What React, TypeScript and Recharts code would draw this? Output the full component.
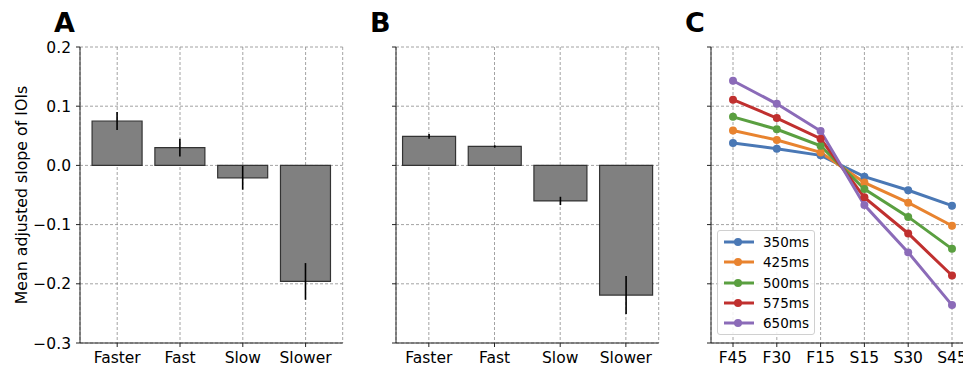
import React from 'react';
import {
  BarChart,
  Bar,
  LineChart,
  Line,
  XAxis,
  YAxis,
  CartesianGrid,
  ErrorBar,
  Legend,
} from 'recharts';

// panels A and B: tempo change categories
const categories = ['Faster', 'Fast', 'Slow', 'Slower'];
const meanA = [0.075, 0.03, -0.021, -0.196];
const errA = [0.015, 0.015, 0.02, 0.031];
const meanB = [0.049, 0.032, -0.06, -0.219];
const errB = [0.004, 0.002, 0.007, 0.032];

// panel C: step sizes per base tempo
const steps = ['F45', 'F30', 'F15', 'S15', 'S30', 'S45'];
const slope350 = [0.038, 0.028, 0.017, -0.019, -0.042, -0.068];
const slope425 = [0.059, 0.043, 0.022, -0.029, -0.063, -0.102];
const slope500 = [0.082, 0.061, 0.033, -0.04, -0.087, -0.141];
const slope575 = [0.111, 0.08, 0.045, -0.054, -0.115, -0.186];
const slope650 = [0.143, 0.104, 0.058, -0.067, -0.147, -0.236];
const tempoNames = ['350ms', '425ms', '500ms', '575ms', '650ms'];

const yTicks = [-0.3, -0.2, -0.1, 0, 0.1, 0.2];

const dataA = categories.map((name, i) => ({ name, mean: meanA[i], err: errA[i] }));
const dataB = categories.map((name, i) => ({ name, mean: meanB[i], err: errB[i] }));
const dataC = steps.map((name, i) => ({
  name,
  t350: slope350[i],
  t425: slope425[i],
  t500: slope500[i],
  t575: slope575[i],
  t650: slope650[i],
}));

const lineKeys = ['t350', 't425', 't500', 't575', 't650'];
const lineColors = ['#4a78b5', '#e8832f', '#5a9f40', '#c0302f', '#8b6bb8'];

const FONT = 'DejaVu Sans';
const tickStyle = { fontSize: 15.5, fill: '#000', fontFamily: FONT };
const spine = { stroke: '#222', strokeWidth: 1 };

const fmtY = (v: number) => (v < 0 ? '\u2212' : '') + Math.abs(v).toFixed(1);
const blank = () => '';

// top and right spines as extra axes
const frameAxes = (showRight: boolean) => [
  <XAxis key="top" xAxisId="top" orientation="top" height={0} tick={false} tickLine={false} axisLine={spine} />,
  showRight ? (
    <YAxis key="right" yAxisId="right" orientation="right" width={0} tick={false} tickLine={false} axisLine={spine} />
  ) : null,
];

const BarPanel = ({ data, yWidth, width, right, showLabels, padL, padR }: any) => (
  <BarChart width={width} height={366} data={data} margin={{ top: 47, right, bottom: 0, left: 0 }}>
    <CartesianGrid stroke="#8c8c8c" strokeWidth={0.8} strokeDasharray="3 2" />
    <XAxis
      dataKey="name"
      height={23}
      tickSize={4}
      tickMargin={5}
      tick={tickStyle}
      axisLine={spine}
      tickLine={spine}
      padding={{ left: padL, right: padR }}
      interval={0}
    />
    <YAxis
      type="number"
      domain={[-0.3, 0.2]}
      ticks={yTicks}
      width={yWidth}
      tickSize={4}
      tickMargin={5}
      tick={tickStyle}
      axisLine={spine}
      tickLine={spine}
      tickFormatter={showLabels ? fmtY : blank}
      interval={0}
    />
    {frameAxes(true)}
    <Bar dataKey="mean" fill="#808080" stroke="#333" strokeWidth={1.2} barCategoryGap="10%" isAnimationActive={false}>
      <ErrorBar dataKey="err" width={0} stroke="#000" strokeWidth={1.6} direction="y" />
    </Bar>
  </BarChart>
);

const LegendBox = ({ payload }: any) => (
  <div
    style={{
      border: '1px solid #d0d0d0',
      borderRadius: 3,
      background: 'rgba(255,255,255,0.85)',
      padding: '1px 0',
      width: 96,
      fontFamily: FONT,
      fontSize: 13.5,
      color: '#000',
      textAlign: 'left',
    }}
  >
    {(payload || []).map((p: any) => (
      <div key={p.value} style={{ display: 'flex', alignItems: 'center', height: 20.3 }}>
        <svg width={36} height={12} style={{ marginLeft: 5 }}>
          <line x1={1} y1={6} x2={31} y2={6} stroke={p.color} strokeWidth={3} />
          <circle cx={15} cy={6} r={4} fill={p.color} />
        </svg>
        <span style={{ marginLeft: 4 }}>{p.value}</span>
      </div>
    ))}
  </div>
);

const App = () => (
  <div
    style={{
      position: 'absolute',
      left: 0,
      top: 0,
      width: 963,
      height: 366,
      overflow: 'hidden',
      background: '#fff',
      fontFamily: FONT,
    }}
  >
    <div style={{ position: 'absolute', left: 0, top: 0 }}>
      <BarPanel data={dataA} yWidth={80} width={350} right={7.3} showLabels padL={5.8} padR={5.7} />
    </div>
    <div style={{ position: 'absolute', left: 380, top: 0 }}>
      <BarPanel data={dataB} yWidth={16} width={285} right={6.3} showLabels={false} padL={0} padR={0} />
    </div>
    <div style={{ position: 'absolute', left: 680, top: 0 }}>
      <LineChart width={300} height={366} data={dataC} margin={{ top: 47, right: 6, bottom: 0, left: 0 }}>
        <CartesianGrid stroke="#8c8c8c" strokeWidth={0.8} strokeDasharray="3 2" />
        <XAxis
          dataKey="name"
          height={23}
          tickSize={4}
          tickMargin={5}
          tick={tickStyle}
          axisLine={spine}
          tickLine={spine}
          padding={{ left: 22, right: 22 }}
          interval={0}
        />
        <YAxis
          type="number"
          domain={[-0.3, 0.2]}
          ticks={yTicks}
          width={31}
          tickSize={4}
          tickMargin={5}
          tick={tickStyle}
          axisLine={spine}
          tickLine={spine}
          tickFormatter={blank}
          interval={0}
        />
        {frameAxes(false)}
        {lineKeys.map((k, i) => (
          <Line
            key={k}
            dataKey={k}
            name={tempoNames[i]}
            type="linear"
            stroke={lineColors[i]}
            strokeWidth={3}
            dot={{ r: 4, fill: lineColors[i], stroke: lineColors[i], strokeWidth: 0 }}
            activeDot={false}
            isAnimationActive={false}
          />
        ))}
        <Legend
          content={<LegendBox />}
          layout="vertical"
          align="center"
          verticalAlign="middle"
          wrapperStyle={{ position: 'absolute', left: 37, top: 230, width: 98, bottom: 'auto', right: 'auto' }}
        />
      </LineChart>
    </div>
    <svg width={963} height={366} style={{ position: 'absolute', left: 0, top: 0, pointerEvents: 'none' }}>
      <g fontFamily={FONT} fontWeight="bold" fontSize={27} fill="#000">
        <text x={54} y={32}>A</text>
        <text x={370} y={32}>B</text>
        <text x={685} y={32}>C</text>
      </g>
      <text
        x={21}
        y={195}
        transform="rotate(-90 21 195)"
        textAnchor="middle"
        dominantBaseline="central"
        fontFamily={FONT}
        fontSize={15.8}
        fill="#000"
      >
        Mean adjusted slope of IOIs
      </text>
    </svg>
  </div>
);

export default App;
